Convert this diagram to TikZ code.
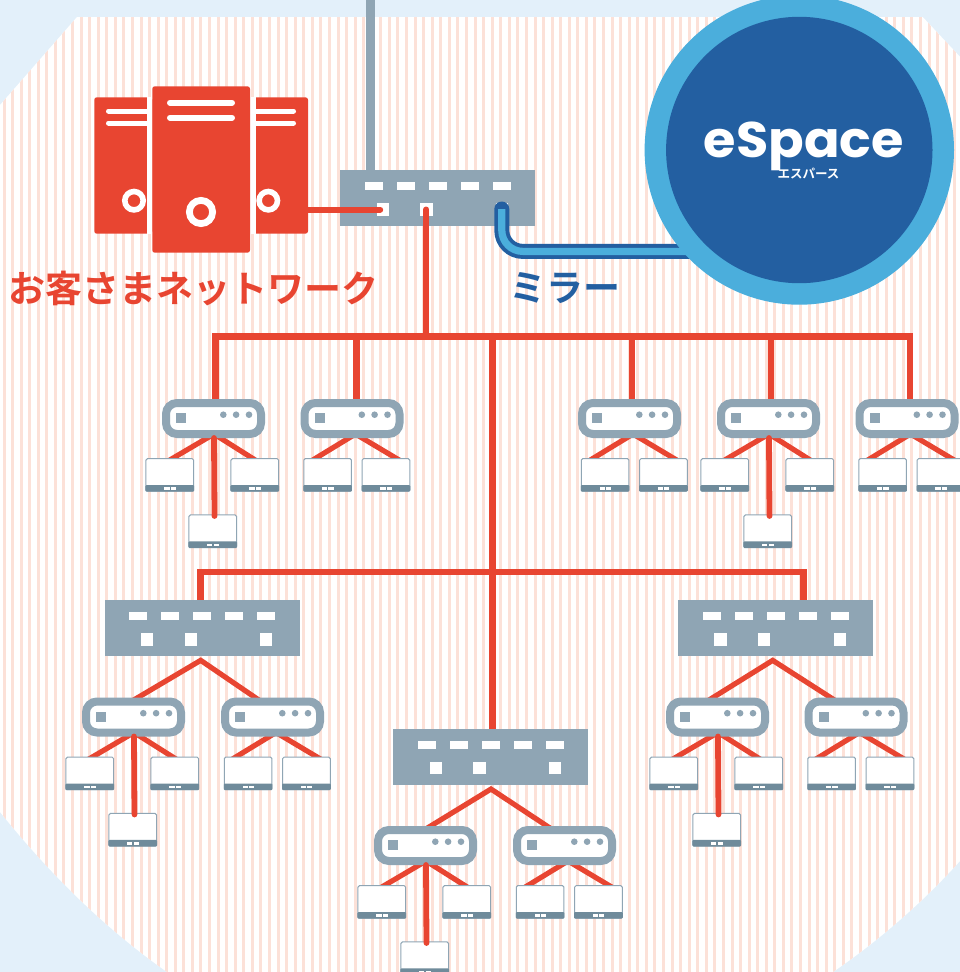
\documentclass[tikz,border=0pt]{standalone}
\usepackage{fontspec}
\newfontfamily\jp{Noto Sans CJK JP Bold}
\newfontfamily\logofont[FakeStretch=1.05]{Poppins Bold}
\usetikzlibrary{calc}
\pgfdeclarelayer{bgl}
\pgfdeclarelayer{wiresl}
\pgfdeclarelayer{topl}
\pgfsetlayers{bgl,wiresl,main,topl}
\definecolor{paleblue}{HTML}{E3F0FA}
\definecolor{peach}{HTML}{FCE1D8}
\definecolor{netred}{HTML}{E84531}
\definecolor{slate}{HTML}{8FA5B4}
\definecolor{darkslate}{HTML}{6F8B9B}
\definecolor{deepblue}{HTML}{235FA1}
\definecolor{skyblue}{HTML}{4BAEDC}
\tikzset{
  x=1pt,y=-1pt,
  wire/.style={draw=netred,line width=5.2pt},
  trunk/.style={draw=netred,line width=6.8pt},
  hubbox/.style={draw=slate,fill=white,line width=8pt,rounded corners=11pt,minimum width=95pt,minimum height=31pt,inner sep=0,outer sep=0},
  hubsq/.style={fill=slate,minimum size=10pt,inner sep=0,outer sep=0},
  hubdot/.style={circle,fill=slate,minimum size=6.6pt,inner sep=0,outer sep=0},
  devbox/.style={draw=slate,fill=white,line width=1pt,rounded corners=1.5pt,minimum width=47.7pt,minimum height=32.5pt,inner sep=0,outer sep=0},
  devbar/.style={fill=darkslate,rounded corners=1pt,minimum width=48.7pt,minimum height=6.6pt,inner sep=0,outer sep=0},
  devdash/.style={fill=white,minimum width=5.2pt,minimum height=2.4pt,inner sep=0,outer sep=0},
  swbox/.style={fill=slate,minimum width=195pt,minimum height=55.7pt,inner sep=0,outer sep=0},
  swdash/.style={fill=white,minimum width=17.7pt,minimum height=8pt,inner sep=0,outer sep=0},
  swsq/.style={fill=white,minimum size=12.2pt,inner sep=0,outer sep=0},
  srvbox/.style={fill=netred,rounded corners=2.5pt,inner sep=0,outer sep=0},
  gapbox/.style={fill=white,inner sep=0,outer sep=0},
  srvbar/.style={draw=white,line cap=round},
  srvring/.style={circle,draw=white,fill=netred,inner sep=0,outer sep=0},
  label/.style={inner sep=0,outer sep=0,font=\jp\fontsize{37}{37}\selectfont},
}
% device: name, x, y
\newcommand{\mkdev}[3]{%
  \begin{scope}[shift={(#2,#3)}]
    \node[devbox] (#1) at (0,0) {};
    \node[devbar] (#1bar) at (0,13.5) {};
    \node[devdash] (#1p) at (-2.9,13.6) {};
    \node[devdash] (#1q) at (3.4,13.6) {};
  \end{scope}}
% hub body: name, x, y
\newcommand{\mkhubbody}[3]{%
  \begin{scope}[shift={(#2,#3)}]
    \node[hubbox] (#1) at (0,0) {};
    \node[hubsq] (#1s) at (-32.5,-0.5) {};
    \node[hubdot] (#1da) at (9.8,-3.8) {};
    \node[hubdot] (#1db) at (22.6,-3.8) {};
    \node[hubdot] (#1dc) at (35.5,-3.8) {};
  \end{scope}}
% hub with two devices
\newcommand{\mkhubtwo}[3]{%
  \mkhubbody{#1}{#2}{#3}%
  \mkdev{#1a}{#2-24.4}{#3+56.4}%
  \mkdev{#1b}{#2+33.9}{#3+56.4}%
  \begin{pgfonlayer}{wiresl}
    \draw[wire] ($(#1a.north)+(-17.5,3)$) -- ($(#1.south)+(3.5,0)$) -- ($(#1b.north)+(16,3)$);
  \end{pgfonlayer}}
% hub with three devices
\newcommand{\mkhubthree}[3]{%
  \mkhubbody{#1}{#2}{#3}%
  \mkdev{#1a}{#2-43.7}{#3+56.4}%
  \mkdev{#1b}{#2+41.3}{#3+56.4}%
  \mkdev{#1c}{#2-0.8}{#3+112.7}%
  \begin{pgfonlayer}{wiresl}
    \draw[wire] ($(#1a.north)+(-2.8,3)$) -- ($(#1.south)+(0.5,0)$) -- ($(#1b.north)+(3,3)$);
  \end{pgfonlayer}
  \begin{pgfonlayer}{topl}
    \draw[wire,line width=5.8pt,line cap=round] ($(#1.south)+(0.5,4)$) -- ($(#1c.north)+(1.8,1)$);
  \end{pgfonlayer}}
% switch
\newcommand{\mksw}[3]{%
  \begin{scope}[shift={(#2,#3)}]
    \node[swbox] (#1) at (0,0) {};
    \foreach \k in {-2,...,2} \node[swdash] (#1u\k) at (32*\k,-12) {};
    \node[swsq] (#1a) at (-55.2,11.5) {};
    \node[swsq] (#1b) at (-11.4,11.5) {};
    \node[swsq] (#1c) at (64,11.5) {};
  \end{scope}}
\begin{document}
\begin{tikzpicture}
\useasboundingbox (0,0) rectangle (960,972);
% background
\begin{pgfonlayer}{bgl}
  \fill[paleblue] (-1,-1) rectangle (961,973);
  \begin{scope}
    \clip (77,17) -- (922.7,17) -- (960,56.7) -- (960,861) .. controls (925,900) and (880,940) .. (833,972)
      -- (167,972) .. controls (100,925) and (45,868) .. (0,812) -- (0,105) -- cycle;
    \fill[white] (-1,-1) rectangle (961,973);
    \foreach \k in {0,...,112} \fill[peach] ({2.5+8.565*\k},0) rectangle ++(3,972);
  \end{scope}
\end{pgfonlayer}

% servers
\node[srvbox,minimum width=58pt,minimum height=136.4pt] (srvL) at (123.3,165.5) {};
\node[srvbox,minimum width=58pt,minimum height=136.4pt] (srvR) at (279,165.5) {};
\node[gapbox,minimum width=5.3pt,minimum height=136.4pt] (gapL) at (149.65,165.5) {};
\node[gapbox,minimum width=6pt,minimum height=136.4pt] (gapR) at (253,165.5) {};
\node[srvbox,minimum width=97.7pt,minimum height=166.4pt] (srvC) at (201.15,169.5) {};
\draw[srvbar,line width=5pt] (108.5,111) -- (147,111);
\draw[srvbar,line width=5pt] (108.5,123) -- (147,123);
\draw[srvbar,line width=5pt] (256,111) -- (293.5,111);
\draw[srvbar,line width=5pt] (256,123) -- (293.5,123);
\draw[srvbar,line width=6pt] (170,102.7) -- (232,102.7);
\draw[srvbar,line width=6pt] (170,117.7) -- (232,117.7);
\node[srvring,line width=5.6pt,minimum size=18.4pt] (ringL) at (134,200.7) {};
\node[srvring,line width=5.6pt,minimum size=18.4pt] (ringR) at (268.3,200.7) {};
\node[srvring,line width=6.8pt,minimum size=23.2pt] (ringC) at (201,212) {};

% switches
\mksw{swT}{437.8}{198}
\mksw{swL}{202.2}{628}
\mksw{swM}{490.8}{756.7}
\mksw{swR}{775.7}{628}

% hubs and their devices
\mkhubthree{hA}{213.5}{418.5}
\mkhubtwo{hB}{352}{418.5}
\mkhubtwo{hC}{629.5}{418.5}
\mkhubthree{hD}{768.5}{418.5}
\mkhubtwo{hE}{907}{418.5}
\mkhubthree{hF}{133.5}{717}
\mkhubtwo{hG}{272.5}{717}
\mkhubthree{hH}{717.5}{717}
\mkhubtwo{hI}{856}{717}
\mkhubthree{hJ}{425.5}{845.5}
\mkhubtwo{hK}{564.5}{845.5}

\coordinate (busA) at (492.5,336.5);
\coordinate (busB) at (492.5,572);
\coordinate (uplink) at (370.3,-2);
\coordinate (mirrorEnd) at (700,251.4);

\begin{pgfonlayer}{wiresl}
  \draw[draw=slate,line width=9pt] (uplink) -- (uplink |- swT.north);
  % upper bus
  \draw[trunk] ($(hA.north)+(2.2,0)$) |- (busA) -| ($(hE.north)+(3,0)$);
  \draw[trunk] ($(hB.north)+(4.7,0)$) |- (busA);
  \draw[trunk] ($(hC.north)+(2.5,0)$) |- (busA);
  \draw[trunk] ($(hD.north)+(2.5,0)$) |- (busA);
  % central trunk
  \draw[trunk] (busA) -- (busA |- swM.north);
  % lower bus
  \draw[trunk] ($(swL.north)+(-1.5,0)$) |- (busB) -| ($(swR.north)+(27.5,0)$);
  % switch to hubs
  \draw[wire] ($(hF.north)+(-4,1)$) -- ($(swL.south)+(-1.5,4.5)$) -- ($(hG.north)+(-10,1)$);
  \draw[wire] ($(hJ.north)+(-3,1)$) -- ($(swM.south)+(0.2,4.5)$) -- ($(hK.north)+(-10,1)$);
  \draw[wire] ($(hH.north)+(-12.5,1)$) -- ($(swR.south)+(-3,4.5)$) -- ($(hI.north)+(-17.7,1)$);
\end{pgfonlayer}

\begin{pgfonlayer}{topl}
  % customer network link and trunk down
  \draw[trunk,line width=6pt,line cap=round] (srvR.east |- swTa.center) -- ($(swTa.center)+(-2.4,0)$);
  \draw[trunk,line width=6pt,line cap=round] (swTb.center) -- (swTb.center |- busA);
  % mirror link
  \draw[draw=deepblue,line width=15pt,line cap=round,rounded corners=21pt] (swTc.center |- 0,209) |- (mirrorEnd);
  \draw[draw=skyblue,line width=7.2pt,rounded corners=21pt] (swTc.center |- 0,209) |- (mirrorEnd);
  % eSpace disc
  \node[circle,fill=skyblue,minimum size=309.4pt,inner sep=0,outer sep=0] (ring) at (799.3,150) {};
  \node[circle,fill=deepblue,minimum size=266.4pt,inner sep=0,outer sep=0] (disc) at (799.3,150) {};
  \node[anchor=base,inner sep=0,outer sep=0,text=white,font=\logofont\fontsize{50}{50}\selectfont] (logo) at (804,157) {eSpace};
  \node[inner sep=0,outer sep=0,text=white,font=\jp\fontsize{12.5}{13}\selectfont] (logokana) at (808.5,173.5) {エスパース};
  % labels
  \node[label,text=netred] (custnet) at (193.5,289) {お客さまネットワーク};
  \node[label,text=deepblue] (mirror) at (565,288) {ミラー};
\end{pgfonlayer}
\end{tikzpicture}
\end{document}
